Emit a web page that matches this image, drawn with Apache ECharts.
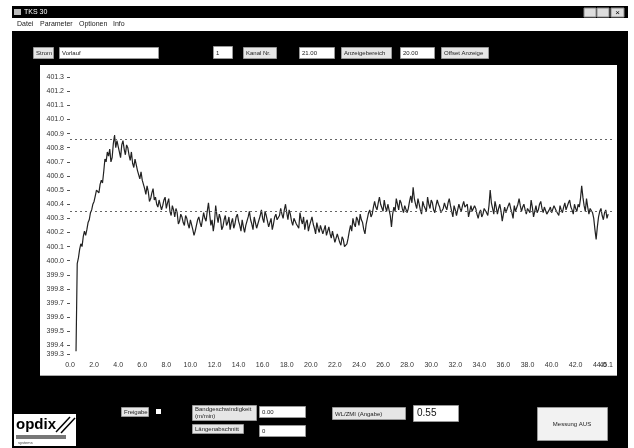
<!DOCTYPE html>
<html>
<head>
<meta charset="utf-8">
<script src="https://cdn.jsdelivr.net/npm/echarts@6/dist/echarts.min.js"></script>
<style>
  html, body { margin: 0; padding: 0; background: #fff; }
  #chart { width: 634px; height: 448px; }
</style>
</head>
<body>
<div id="chart"></div>
<script>
// Measured signal: one reading every 0.1 s, starting at 0.5 s
const sampleStart = 0.5;
const sampleStep = 0.1;
const signal = [
  399.36, 399.98, 400.02, 400.08, 400.12, 400.10, 400.17, 400.21, 400.18, 400.22,
  400.27, 400.29, 400.34, 400.36, 400.40, 400.42, 400.46, 400.50, 400.51, 400.48,
  400.54, 400.57, 400.55, 400.63, 400.72, 400.70, 400.77, 400.74, 400.79, 400.70,
  400.73, 400.83, 400.89, 400.80, 400.85, 400.81, 400.77, 400.73, 400.82, 400.85,
  400.79, 400.75, 400.82, 400.80, 400.75, 400.71, 400.77, 400.69, 400.66, 400.72,
  400.68, 400.64, 400.61, 400.58, 400.63, 400.57, 400.54, 400.51, 400.47, 400.53,
  400.49, 400.42, 400.44, 400.48, 400.51, 400.43, 400.45, 400.40, 400.38, 400.43,
  400.44, 400.36, 400.39, 400.43, 400.45, 400.37, 400.41, 400.44, 400.35, 400.32,
  400.39, 400.36, 400.31, 400.37, 400.34, 400.26, 400.28, 400.33, 400.31, 400.27,
  400.25, 400.32, 400.30, 400.26, 400.23, 400.29, 400.28, 400.22, 400.18, 400.21,
  400.25, 400.29, 400.31, 400.27, 400.24, 400.29, 400.34, 400.30, 400.28, 400.35,
  400.41, 400.33, 400.25, 400.29, 400.21, 400.27, 400.39, 400.32, 400.27, 400.33,
  400.30, 400.22, 400.24, 400.29, 400.32, 400.25, 400.27, 400.31, 400.22, 400.27,
  400.30, 400.23, 400.26, 400.31, 400.33, 400.28, 400.25, 400.21, 400.29, 400.24,
  400.20, 400.25, 400.28, 400.31, 400.35, 400.29, 400.26, 400.22, 400.31, 400.27,
  400.23, 400.26, 400.29, 400.32, 400.36, 400.30, 400.27, 400.35, 400.32, 400.28,
  400.24, 400.27, 400.30, 400.22, 400.26, 400.31, 400.33, 400.29, 400.28, 400.32,
  400.37, 400.33, 400.30, 400.36, 400.40, 400.34, 400.29, 400.36, 400.33, 400.28,
  400.25, 400.30, 400.31, 400.26, 400.27, 400.23, 400.34, 400.29, 400.26, 400.31,
  400.22, 400.27, 400.29, 400.21, 400.25, 400.28, 400.31, 400.26, 400.23, 400.19,
  400.27, 400.23, 400.20, 400.25, 400.26, 400.19, 400.22, 400.25, 400.18, 400.21,
  400.24, 400.19, 400.16, 400.21, 400.20, 400.13, 400.14, 400.19, 400.18, 400.13,
  400.11, 400.17, 400.15, 400.10, 400.09, 400.12, 400.16, 400.21, 400.25, 400.21,
  400.30, 400.26, 400.24, 400.31, 400.29, 400.25, 400.33, 400.29, 400.27, 400.22,
  400.19, 400.26, 400.30, 400.34, 400.36, 400.31, 400.33, 400.38, 400.42, 400.38,
  400.36, 400.41, 400.45, 400.40, 400.39, 400.35, 400.43, 400.38, 400.35, 400.40,
  400.41, 400.32, 400.24, 400.33, 400.38, 400.35, 400.44, 400.40, 400.36, 400.43,
  400.41, 400.37, 400.34, 400.39, 400.40, 400.34, 400.37, 400.42, 400.46, 400.41,
  400.52, 400.44, 400.40, 400.37, 400.44, 400.40, 400.36, 400.33, 400.42, 400.39,
  400.38, 400.35, 400.45, 400.40, 400.37, 400.43, 400.41, 400.36, 400.34, 400.39,
  400.43, 400.40, 400.38, 400.34, 400.33, 400.37, 400.41, 400.38, 400.36, 400.41,
  400.44, 400.39, 400.35, 400.31, 400.39, 400.36, 400.32, 400.36, 400.40, 400.37,
  400.35, 400.39, 400.42, 400.38, 400.37, 400.40, 400.31, 400.35, 400.39, 400.35,
  400.34, 400.39, 400.37, 400.33, 400.30, 400.34, 400.36, 400.31, 400.33, 400.37,
  400.38, 400.34, 400.32, 400.39, 400.50, 400.41, 400.37, 400.33, 400.42, 400.38,
  400.33, 400.37, 400.40, 400.35, 400.28, 400.33, 400.38, 400.34, 400.35, 400.39,
  400.41, 400.37, 400.34, 400.30, 400.39, 400.35, 400.36, 400.40, 400.44, 400.39,
  400.35, 400.38, 400.40, 400.36, 400.33, 400.37, 400.38, 400.34, 400.43, 400.38,
  400.31, 400.35, 400.39, 400.34, 400.36, 400.40, 400.42, 400.37, 400.34, 400.38,
  400.37, 400.33, 400.32, 400.36, 400.38, 400.34, 400.35, 400.39, 400.40, 400.35,
  400.36, 400.32, 400.39, 400.36, 400.34, 400.38, 400.41, 400.36, 400.37, 400.41,
  400.43, 400.38, 400.36, 400.33, 400.40, 400.37, 400.35, 400.40, 400.38, 400.44,
  400.53, 400.45, 400.39, 400.35, 400.44, 400.38, 400.33, 400.37, 400.38, 400.34,
  400.30, 400.22, 400.15, 400.24, 400.31, 400.35, 400.37, 400.32, 400.29, 400.34,
  400.36, 400.30, 400.33
];

// Tolerance band (upper / lower limit)
const limitLines = [400.86, 400.35];

// Axis range and label positions
const timeMax = 45.1;
const xTickValues = [0, 2, 4, 6, 8, 10, 12, 14, 16, 18, 20, 22, 24, 26, 28, 30,
  32, 34, 36, 38, 40, 42, 44];
const yTickValues = [399.34, 399.4, 399.5, 399.6, 399.7, 399.8, 399.9, 400.0,
  400.1, 400.2, 400.3, 400.4, 400.5, 400.6, 400.7, 400.8, 400.9, 401.0, 401.1,
  401.2, 401.3];

// Window texts
const windowTitle = 'TKS 30';
const menuItems = ['Datei', 'Parameter', 'Optionen', 'Info'];
const topControls = ['Strom', 'Vorlauf', '1', 'Kanal Nr.', '21.00', 'Anzeigebereich', '20.00', 'Offset Anzeige'];
const bottomControls = ['Freigabe', 'Bandgeschwindigkeit (m/min)', '0.00', 'Längenabschnitt', '0',
  'WL/ZMI (Angabe)', '0.55', 'Messung AUS'];

const UI_FONT = '"Liberation Sans", Arial, sans-serif';

function rect(x, y, w, h, fill, stroke) {
  return {
    type: 'rect', silent: true, z: -10,
    shape: { x: x, y: y, width: w, height: h },
    style: { fill: fill, stroke: stroke || null, lineWidth: 1 }
  };
}
function text(x, y, str, size, color, align, weight) {
  return {
    type: 'text', silent: true, z: -5,
    x: x, y: y,
    style: {
      text: str, fill: color || '#000',
      font: (weight || 'normal') + ' ' + (size || 7) + 'px ' + UI_FONT,
      textAlign: align || 'left', textVerticalAlign: 'middle'
    }
  };
}
// field or button with a caption inside
function field(x, y, w, h, str, fill, align) {
  const els = [rect(x + 0.5, y + 0.5, w, h, fill || '#fff', '#999')];
  if (align === 'center') els.push(text(x + w / 2, y + h / 2 + 1, str, 6, '#222', 'center'));
  else els.push(text(x + 3, y + h / 2 + 1, str, 6, '#222', 'left'));
  return els;
}

const elements = [];
// application window
elements.push(rect(12, 6, 616, 442, '#000'));
// title bar
elements.push(rect(14, 9, 7, 6, '#bbb'));
elements.push(text(24, 12.5, windowTitle, 7, '#fff'));
elements.push(rect(584, 8, 12, 9, '#ddd', '#888'));
elements.push(rect(597, 8, 12, 9, '#ddd', '#888'));
elements.push(rect(611, 8, 13, 9, '#ddd', '#888'));
elements.push(text(617.5, 12.5, '×', 8, '#000', 'center'));
// menu bar
elements.push(rect(12, 18, 616, 13, '#fff'));
const menuX = [17, 40, 79, 113];
menuItems.forEach((m, i) => elements.push(text(menuX[i], 24.5, m, 7, '#222')));

// top control row
const tc = [
  [33, 47, 20, 11, '#e6e6e6'],
  [59, 47, 99, 11, '#fff'],
  [213, 46, 19, 12, '#fff'],
  [243, 47, 33, 11, '#e6e6e6'],
  [299, 47, 35, 11, '#fff'],
  [341, 47, 50, 11, '#e6e6e6'],
  [400, 47, 34, 11, '#fff'],
  [441, 47, 47, 11, '#e6e6e6']
];
tc.forEach((c, i) => elements.push(...field(c[0], c[1], c[2], c[3], topControls[i], c[4])));

// plot panel
elements.push(rect(40, 65, 577, 310, '#fff'));
elements.push(rect(40, 375, 577, 1, '#aaa'));

// logo
elements.push(rect(14, 414, 62, 32, '#fff'));
elements.push(text(16, 425, 'opdix', 15, '#000', 'left', 'bold'));
elements.push({
  type: 'polyline', silent: true, z: -5,
  shape: { points: [[56, 432], [70, 417]] }, style: { stroke: '#000', lineWidth: 1.5 }
});
elements.push({
  type: 'polyline', silent: true, z: -5,
  shape: { points: [[61, 433], [75, 418]] }, style: { stroke: '#000', lineWidth: 1.5 }
});
elements.push(rect(16, 435, 50, 4, '#777'));
elements.push(text(18, 443, 'systems', 4, '#444'));

// bottom controls
elements.push(...field(121, 407, 27, 9, bottomControls[0], '#e6e6e6'));
elements.push(rect(156, 409, 5, 5, '#fff'));
elements.push(...field(192, 405, 64, 15, '', '#e6e6e6'));
elements.push(text(195, 409.5, 'Bandgeschwindigkeit', 6, '#222'));
elements.push(text(195, 416, '(m/min)', 6, '#222'));
elements.push(...field(259, 406, 46, 11, bottomControls[2], '#fff'));
elements.push(...field(192, 424, 51, 9, bottomControls[3], '#e6e6e6'));
elements.push(...field(259, 425, 46, 11, bottomControls[4], '#fff'));
elements.push(...field(332, 407, 73, 12, bottomControls[5], '#e6e6e6'));
elements.push(...field(413, 405, 45, 16, '', '#fff'));
elements.push(text(417, 413.5, bottomControls[6], 10, '#111'));
elements.push(...field(537, 407, 70, 33, bottomControls[7], '#f2f2f2', 'center'));

const xLabelStyle = { fontSize: 7, fontFamily: UI_FONT, color: '#333', margin: 8 };

const chart = echarts.init(document.getElementById('chart'), null, { renderer: 'canvas' });
chart.setOption({
  backgroundColor: '#fff',
  animation: false,
  graphic: { elements: elements },
  grid: { left: 70, top: 70, width: 543, height: 284, containLabel: false },
  xAxis: [{
    // regular time ticks
    type: 'value', min: 0, max: timeMax,
    axisLine: { show: false },
    axisTick: { show: false },
    splitLine: { show: false },
    axisLabel: Object.assign({
      customValues: xTickValues,
      showMinLabel: true, showMaxLabel: true, hideOverlap: false,
      formatter: v => v.toFixed(1)
    }, xLabelStyle)
  }, {
    // end-of-record label, kept inside the panel
    type: 'value', min: 0, max: timeMax, position: 'bottom',
    axisLine: { show: false },
    axisTick: { show: false },
    splitLine: { show: false },
    axisLabel: Object.assign({
      customValues: [timeMax],
      showMinLabel: true, showMaxLabel: true,
      align: 'right',
      formatter: v => v.toFixed(1)
    }, xLabelStyle)
  }],
  yAxis: {
    type: 'value', min: 399.34, max: 401.35,
    axisLine: { show: false },
    axisTick: { show: true, customValues: yTickValues, length: 3, lineStyle: { color: '#555' } },
    splitLine: { show: false },
    axisLabel: {
      customValues: yTickValues,
      showMinLabel: true, showMaxLabel: true,
      formatter: v => v.toFixed(1),
      fontSize: 7, fontFamily: UI_FONT, color: '#333', margin: 6
    }
  },
  series: [{
    type: 'line',
    xAxisIndex: 0,
    data: signal.map((v, i) => [+(sampleStart + i * sampleStep).toFixed(2), v]),
    showSymbol: false,
    lineStyle: { color: '#222', width: 1.2 },
    markLine: {
      silent: true, symbol: 'none',
      label: { show: false },
      lineStyle: { color: '#666', type: [2, 3], width: 1 },
      data: limitLines.map(v => ({ yAxis: v }))
    }
  }]
});
</script>
</body>
</html>
